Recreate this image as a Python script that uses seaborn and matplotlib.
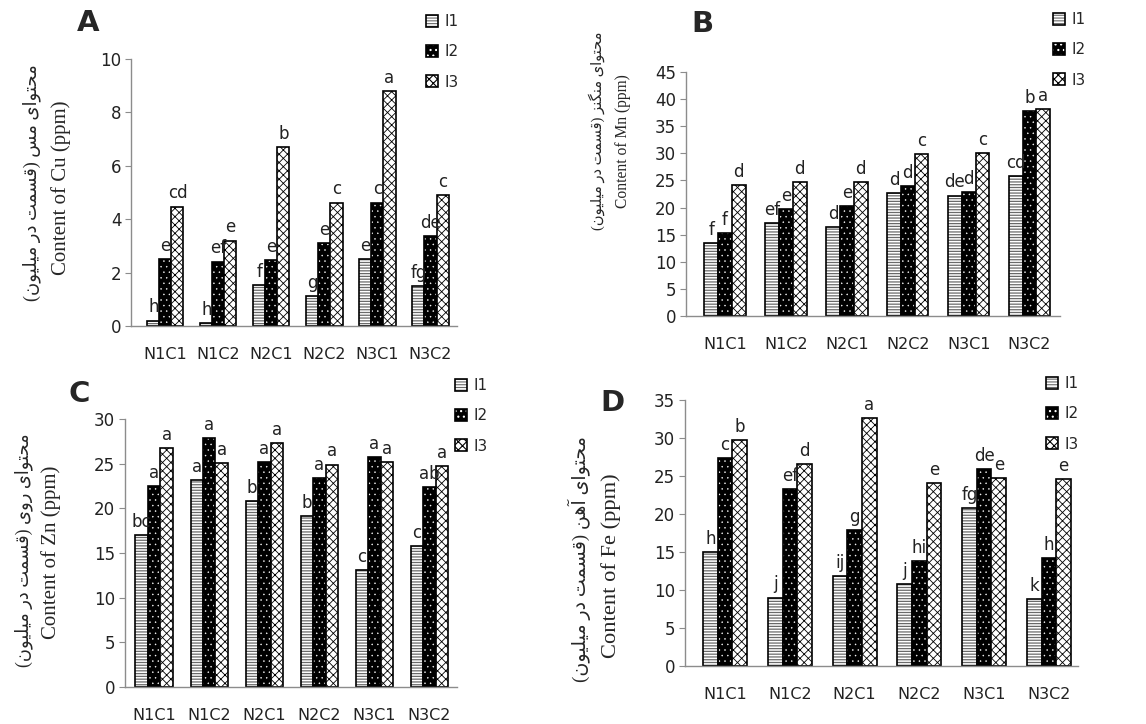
import pandas as pd
import matplotlib.pyplot as plt
import matplotlib.colors as mcolors
import seaborn as sns

treatments = ['N1C1', 'N1C2', 'N2C1', 'N2C2', 'N3C1', 'N3C2']
levels = ['I1', 'I2', 'I3']

# A - Cu
cu_i1 = [0.20, 0.12, 1.52, 1.12, 2.51, 1.50]
cu_i2 = [2.51, 2.41, 2.47, 3.12, 4.62, 3.37]
cu_i3 = [4.47, 3.20, 6.70, 4.62, 8.81, 4.89]
cu_let_i1 = ['h', 'h', 'f', 'g', 'e', 'fg']
cu_let_i2 = ['e', 'ef', 'e', 'e', 'c', 'de']
cu_let_i3 = ['cd', 'e', 'b', 'c', 'a', 'c']

# B - Mn
mn_i1 = [13.4, 17.1, 16.4, 22.6, 22.2, 25.8]
mn_i2 = [15.3, 19.7, 20.2, 24.0, 22.8, 37.8]
mn_i3 = [24.2, 24.7, 24.7, 29.8, 30.0, 38.2]
mn_let_i1 = ['f', 'ef', 'd', 'd', 'de', 'cd']
mn_let_i2 = ['f', 'e', 'e', 'd', 'd', 'b']
mn_let_i3 = ['d', 'd', 'd', 'c', 'c', 'a']

# C - Zn
zn_i1 = [17.0, 23.2, 20.8, 19.1, 13.1, 15.8]
zn_i2 = [22.5, 27.9, 25.2, 23.4, 25.7, 22.4]
zn_i3 = [26.7, 25.1, 27.3, 24.9, 25.2, 24.7]
zn_let_i1 = ['bc', 'a', 'b', 'b', 'c', 'c']
zn_let_i2 = ['a', 'a', 'a', 'a', 'a', 'ab']
zn_let_i3 = ['a', 'a', 'a', 'a', 'a', 'a']

# D - Fe
fe_i1 = [15.0, 9.0, 11.8, 10.8, 20.8, 8.8]
fe_i2 = [27.4, 23.3, 17.9, 13.8, 25.9, 14.2]
fe_i3 = [29.7, 26.6, 32.6, 24.1, 24.7, 24.6]
fe_let_i1 = ['h', 'j', 'ij', 'j', 'fg', 'k']
fe_let_i2 = ['c', 'ef', 'g', 'hi', 'de', 'h']
fe_let_i3 = ['b', 'd', 'a', 'e', 'e', 'e']

# persian letters -> (isolated, final, initial, medial) presentation forms
FORMS = {
    'ا': ('\uFE8D', '\uFE8E', None, None),
    'آ': ('\uFE81', '\uFE82', None, None),
    'ت': ('\uFE95', '\uFE96', '\uFE97', '\uFE98'),
    'ح': ('\uFEA1', '\uFEA2', '\uFEA3', '\uFEA4'),
    'د': ('\uFEA9', '\uFEAA', None, None),
    'ر': ('\uFEAD', '\uFEAE', None, None),
    'ز': ('\uFEAF', '\uFEB0', None, None),
    'س': ('\uFEB1', '\uFEB2', '\uFEB3', '\uFEB4'),
    'ق': ('\uFED5', '\uFED6', '\uFED7', '\uFED8'),
    'ل': ('\uFEDD', '\uFEDE', '\uFEDF', '\uFEE0'),
    'م': ('\uFEE1', '\uFEE2', '\uFEE3', '\uFEE4'),
    'ن': ('\uFEE5', '\uFEE6', '\uFEE7', '\uFEE8'),
    'ه': ('\uFEE9', '\uFEEA', '\uFEEB', '\uFEEC'),
    'و': ('\uFEED', '\uFEEE', None, None),
    'ی': ('\uFBFC', '\uFBFD', '\uFBFE', '\uFBFF'),
    'گ': ('\uFB92', '\uFB93', '\uFB94', '\uFB95'),
}


def shape_fa(text):
    # crude shaping + right-to-left ordering, matplotlib does neither
    out = []
    for i, ch in enumerate(text):
        if ch not in FORMS:
            out.append(ch)
            continue
        prev = text[i - 1] if i > 0 else ''
        nxt = text[i + 1] if i + 1 < len(text) else ''
        iso, fin, ini, med = FORMS[ch]
        join_prev = prev in FORMS and FORMS[prev][2] is not None
        join_next = ini is not None and nxt in FORMS
        if join_prev and join_next:
            out.append(med)
        elif join_prev:
            out.append(fin)
        elif join_next:
            out.append(ini)
        else:
            out.append(iso)
    visual = ''.join(out)[::-1]
    return visual.translate(str.maketrans('()', ')('))


def make_frame(i1, i2, i3):
    rows = []
    for lev, vals in zip(levels, [i1, i2, i3]):
        for t, v in zip(treatments, vals):
            rows.append((t, lev, v))
    return pd.DataFrame(rows, columns=['treatment', 'irrigation', 'value'])


sns.set_style('white')
plt.rcParams['font.family'] = ['DejaVu Sans']
plt.rcParams['hatch.linewidth'] = 0.8

W, H = 1146, 724
fig = plt.figure(figsize=(W / 100, H / 100), dpi=100)


def rect(l, t, r, b):
    return [l / W, 1 - b / H, (r - l) / W, (b - t) / H]


# face, hatch, hatch colour, hatch linewidth
styles = [
    ('white', '------', '#6a6a6a', 0.9),
    ('black', '...', 'white', 0.3),
    ('white', 'xxxx', 'black', 0.6),
]


def style_patch(p, face, hatch, hcolor, hlw):
    p.set_facecolor(face)
    p.set_edgecolor('black')
    p.set_linewidth(1.2)
    p.set_hatch(hatch)
    if hasattr(p, 'set_hatchcolor'):
        p.set_hatchcolor(hcolor)
    else:
        p._hatch_color = mcolors.to_rgba(hcolor)
    if hasattr(p, 'set_hatch_linewidth'):
        p.set_hatch_linewidth(hlw)
    else:
        p._hatch_linewidth = hlw
    p.stale = True


def draw_panel(box, df, letters, ymax, ystep, xlim, tag, tag_xy,
               fa_label, en_label, fa_xy, en_xy, fa_size, en_size, leg_xy):
    ax = fig.add_axes(rect(*box))
    sns.barplot(data=df, x='treatment', y='value', hue='irrigation',
                order=treatments, hue_order=levels,
                palette=['white', 'black', 'white'], width=0.68,
                errorbar=None, legend=False, edgecolor='black',
                linewidth=1.2, ax=ax)
    for cont, st, labs in zip(ax.containers, styles, letters):
        for p, lab in zip(cont.patches, labs):
            style_patch(p, *st)
            ax.annotate(lab, (p.get_x() + p.get_width() / 2, p.get_height()),
                        xytext=(0, 3), textcoords='offset points',
                        ha='center', va='bottom', fontsize=12, color='#222222')
    ax.set_xlim(*xlim)
    ax.set_ylim(0, ymax)
    ax.set_yticks(range(0, ymax + 1, ystep))
    ax.set_xlabel('')
    ax.set_ylabel('')
    for s in ['top', 'right']:
        ax.spines[s].set_visible(False)
    for s in ['left', 'bottom']:
        ax.spines[s].set_color('#8c8c8c')
        ax.spines[s].set_linewidth(1.0)
    ax.tick_params(axis='y', length=4, color='#8c8c8c', pad=3, labelsize=12,
                   labelcolor='#222222', left=True)
    ax.tick_params(axis='x', length=0, pad=15, labelsize=11.5, labelcolor='#222222')

    fig.text(tag_xy[0] / W, 1 - tag_xy[1] / H, tag, fontsize=21,
             fontweight='bold', ha='center', va='center')
    fig.text(fa_xy[0] / W, 1 - fa_xy[1] / H, shape_fa(fa_label), rotation=90,
             ha='center', va='center', fontsize=fa_size,
             family=['Liberation Serif', 'DejaVu Sans'])
    fig.text(en_xy[0] / W, 1 - en_xy[1] / H, en_label, rotation=90,
             ha='center', va='center', fontsize=en_size,
             family=['Liberation Serif'])
    fig.legend(ax.containers, levels, loc='upper left',
               bbox_to_anchor=(leg_xy[0] / W, 1 - leg_xy[1] / H),
               frameon=False, fontsize=11, borderpad=0, borderaxespad=0,
               handlelength=0.8, handleheight=0.8, handletextpad=0.4,
               labelspacing=1.0)
    return ax


draw_panel((131, 59, 457, 326), make_frame(cu_i1, cu_i2, cu_i3),
           [cu_let_i1, cu_let_i2, cu_let_i3], 10, 2, (-0.65, 5.5),
           'A', (88, 23), 'محتوای مس (قسمت در میلیون)', 'Content of Cu (ppm)',
           (32, 183), (61, 188), 13, 15, (426, 14))

draw_panel((686, 72, 1060, 316), make_frame(mn_i1, mn_i2, mn_i3),
           [mn_let_i1, mn_let_i2, mn_let_i3], 45, 5, (-0.64, 5.5),
           'B', (702, 24), 'محتوای منگنز (قسمت در میلیون)', 'Content of Mn (ppm)',
           (597, 131), (623, 141), 10.5, 11.2, (1053, 12))

draw_panel((125, 419, 457, 687), make_frame(zn_i1, zn_i2, zn_i3),
           [zn_let_i1, zn_let_i2, zn_let_i3], 30, 5, (-0.53, 5.5),
           'C', (79, 394), 'محتوای روی (قسمت در میلیون)', 'Content of Zn (ppm)',
           (24, 550), (51, 552), 12.9, 15, (455, 378))

draw_panel((685, 400, 1078, 666), make_frame(fe_i1, fe_i2, fe_i3),
           [fe_let_i1, fe_let_i2, fe_let_i3], 35, 5, (-0.62, 5.45),
           'D', (612, 403), 'محتوای آهن (قسمت در میلیون)', 'Content of Fe (ppm)',
           (579, 559), (611, 566), 13.7, 16.2, (1046, 376))

fig.savefig('out.png', dpi=100)
